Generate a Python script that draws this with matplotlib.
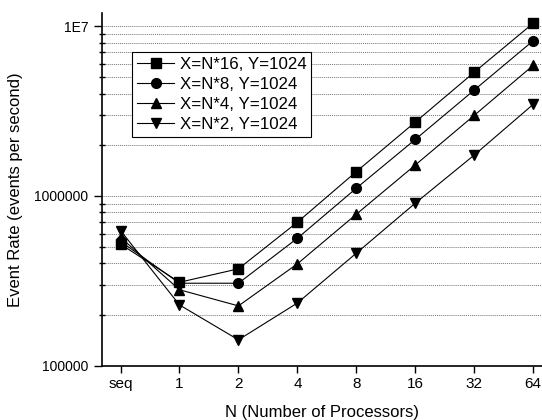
import matplotlib.pyplot as plt
from matplotlib.ticker import FixedLocator, LogLocator, NullFormatter, FuncFormatter

plt.rcParams['font.family'] = ['Liberation Sans', 'DejaVu Sans']

cats = ['seq', '1', '2', '4', '8', '16', '32', '64']
n16 = [520000, 310000, 372000, 700000, 1390000, 2720000, 5350000, 10400000]
n8 = [540000, 306000, 306000, 563000, 1110000, 2150000, 4200000, 8200000]
n4 = [570000, 280000, 225000, 398000, 780000, 1520000, 2980000, 5870000]
n2 = [625000, 228000, 142000, 234000, 460000, 906000, 1740000, 3460000]
labels = ['X=N*16, Y=1024', 'X=N*8, Y=1024', 'X=N*4, Y=1024', 'X=N*2, Y=1024']

fig = plt.figure(figsize=(5.42, 4.2), dpi=100)
ax = fig.add_axes([0.1876, 0.1293, 0.8124, 0.8405])

x = list(range(len(cats)))
for ys, m, lab in zip([n16, n8, n4, n2], ['s', 'o', '^', 'v'], labels):
    ax.plot(x, ys, color='black', lw=0.8, marker=m, markersize=7, label=lab)

ax.set_yscale('log')
ax.set_ylim(100000, 1.2e7)
ax.set_xlim(-0.32, 7.15)
ax.set_xticks(x)
ax.set_xticklabels(cats, fontsize=11)

ax.yaxis.set_major_locator(FixedLocator([1e5, 1e6, 1e7]))
ax.yaxis.set_major_formatter(FuncFormatter(lambda v, p: {1e5: '100000', 1e6: '1000000', 1e7: '1E7'}.get(v, '')))
ax.yaxis.set_minor_locator(LogLocator(base=10, subs=range(2, 10)))
ax.yaxis.set_minor_formatter(NullFormatter())
ax.tick_params(axis='y', which='major', labelsize=10, length=6, width=1)
ax.tick_params(axis='y', which='minor', length=4, width=1, direction='inout')
ax.tick_params(axis='x', length=5, width=1)

ax.grid(axis='y', which='both', linestyle=(0, (1, 1)), color='#777777', lw=0.7)
ax.spines['top'].set_visible(False)
ax.spines['right'].set_visible(False)
ax.spines['left'].set_linewidth(1.2)
ax.spines['bottom'].set_linewidth(1.2)

ax.set_xlabel('N (Number of Processors)', fontsize=12, labelpad=10)
ax.set_ylabel('Event Rate (events per second)', fontsize=12, labelpad=8)

leg = ax.legend(loc='upper left', bbox_to_anchor=(0.069, 0.888), fontsize=12.2,
                frameon=True, fancybox=False, edgecolor='black', framealpha=1,
                handlelength=2.2, borderpad=0.3, labelspacing=0.28, handletextpad=0.3,
                borderaxespad=0)
leg.get_frame().set_linewidth(0.8)

fig.savefig('out.png', dpi=100)
